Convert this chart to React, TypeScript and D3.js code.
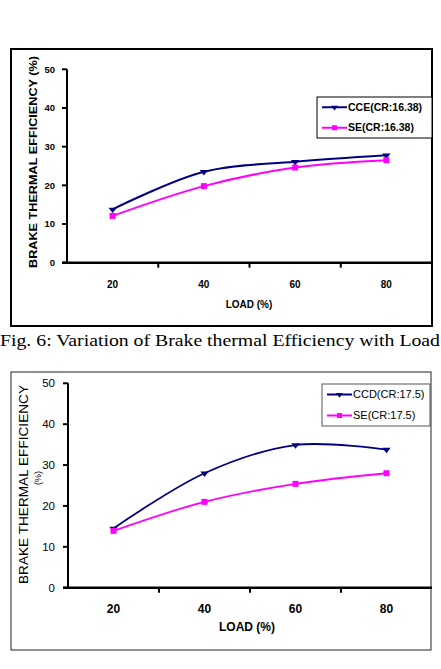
import React from "react";
import * as d3 from "d3";

// Engine load categories and y-axis ticks
const loads = ["20", "40", "60", "80"];
const yTicks = [0, 10, 20, 30, 40, 50];

// Brake thermal efficiency (%) at CR 16.38
const cce1638 = [13.8, 23.5, 26.1, 27.8];
const se1638 = [12.1, 19.8, 24.6, 26.5];

// Brake thermal efficiency (%) at CR 17.5
const ccd175 = [14.5, 28.0, 34.9, 33.8];
const se175 = [13.9, 21.0, 25.4, 28.0];

const NAVY = "#000080";
const MAGENTA = "#ff00ff";
const SANS = "'Liberation Sans', Arial, sans-serif";

type Series = { name: string; values: number[]; color: string; marker: "tri" | "sq" };

function Marker({ kind, x, y, color, size }: { kind: "tri" | "sq"; x: number; y: number; color: string; size: number }) {
  if (kind === "sq") {
    return <rect x={x - size / 2} y={y - size / 2} width={size} height={size} fill={color} />;
  }
  const s = size * 0.6;
  return <path d={`M${x - s},${y - s * 0.4} L${x + s},${y - s * 0.4} L${x},${y + s * 0.9} Z`} fill={color} />;
}

type PanelProps = {
  x0: number; x1: number; yTop: number; yBottom: number;
  series: Series[];
  bold: boolean;
  tickFont: number;
  lineWidth: number;
  labelGap: number;
  xLabelDy: number;
};

function Plot({ x0, x1, yTop, yBottom, series, bold, tickFont, lineWidth, labelGap, xLabelDy }: PanelProps) {
  const x = d3.scaleBand<string>().domain(loads).range([x0, x1]);
  const y = d3.scaleLinear().domain([0, 50]).range([yBottom, yTop]);
  const line = d3
    .line<number>()
    .x((_, i) => (x(loads[i]) as number) + x.bandwidth() / 2)
    .y((v) => y(v))
    .curve(d3.curveCatmullRom.alpha(0.5));
  const weight = bold ? "bold" : "normal";
  return (
    <g>
      {/* y axis */}
      <line x1={x0} x2={x0} y1={y(50)} y2={y(0)} stroke="#000" strokeWidth={2} />
      {yTicks.map((t) => (
        <g key={t}>
          <line x1={x0 - 5} x2={x0} y1={y(t)} y2={y(t)} stroke="#000" strokeWidth={2} />
          <text x={x0 - labelGap} y={y(t)} dy="0.35em" textAnchor="end" fontFamily={SANS} fontSize={tickFont} fontWeight={weight}>
            {t}
          </text>
        </g>
      ))}
      {/* x axis */}
      <line x1={x0 - 5} x2={x1} y1={y(0)} y2={y(0)} stroke="#000" strokeWidth={2.5} />
      {loads.slice(1).map((l) => (
        <line key={l} x1={x(l)} x2={x(l)} y1={y(0)} y2={y(0) + 5} stroke="#000" strokeWidth={2} />
      ))}
      {loads.map((l) => (
        <text
          key={l}
          x={(x(l) as number) + x.bandwidth() / 2}
          y={y(0) + xLabelDy}
          textAnchor="middle"
          fontFamily={SANS}
          fontSize={tickFont + 0.5}
          fontWeight="bold"
        >
          {l}
        </text>
      ))}
      {series.map((s) => (
        <g key={s.name}>
          <path d={line(s.values) as string} fill="none" stroke={s.color} strokeWidth={lineWidth} />
          {s.values.map((v, i) => (
            <Marker
              key={i}
              kind={s.marker}
              x={(x(loads[i]) as number) + x.bandwidth() / 2}
              y={y(v)}
              color={s.color}
              size={s.marker === "sq" ? 6 : 7}
            />
          ))}
        </g>
      ))}
    </g>
  );
}

function Legend({ x0, x1, y0, y1, series, bold, font, stroke }: { x0: number; x1: number; y0: number; y1: number; series: Series[]; bold: boolean; font: number; stroke: string }) {
  const rowH = (y1 - y0) / series.length;
  return (
    <g>
      <rect x={x0} y={y0} width={x1 - x0} height={y1 - y0} fill="#fff" stroke={stroke} strokeWidth={1} />
      {series.map((s, i) => {
        const cy = y0 + rowH * (i + 0.5);
        return (
          <g key={s.name}>
            <line x1={x0 + 5} x2={x0 + 30} y1={cy} y2={cy} stroke={s.color} strokeWidth={2} />
            <Marker kind={s.marker} x={x0 + 17.5} y={cy} color={s.color} size={s.marker === "sq" ? 5 : 6} />
            <text x={x0 + 31} y={cy} dy="0.35em" fontFamily={SANS} fontSize={font} fontWeight={bold ? "bold" : "normal"}>
              {s.name}
            </text>
          </g>
        );
      })}
    </g>
  );
}

export default function App() {
  const topSeries: Series[] = [
    { name: "CCE(CR:16.38)", values: cce1638, color: NAVY, marker: "tri" },
    { name: "SE(CR:16.38)", values: se1638, color: MAGENTA, marker: "sq" },
  ];
  const bottomSeries: Series[] = [
    { name: "CCD(CR:17.5)", values: ccd175, color: NAVY, marker: "tri" },
    { name: "SE(CR:17.5)", values: se175, color: MAGENTA, marker: "sq" },
  ];
  return (
    <svg
      width={441}
      height={669}
      viewBox="0 0 441 669"
      style={{ position: "absolute", left: 0, top: 0, background: "#fff" }}
    >
      <rect x={0} y={0} width={441} height={669} fill="#fff" />

      {/* Chart at CR 16.38 */}
      <rect x={11} y={49} width={421} height={277} fill="#fff" stroke="#000" strokeWidth={2} />
      <Plot x0={67} x1={432} yTop={69.3} yBottom={262.7} series={topSeries} bold={true} tickFont={9.5} lineWidth={2} labelGap={12} xLabelDy={25} />
      <Legend x0={317} x1={432} y0={97} y1={138} series={topSeries} bold={true} font={10.5} stroke="#000" />
      <text
        transform="translate(37,162) rotate(-90)"
        textAnchor="middle"
        fontFamily={SANS}
        fontSize={10.5}
        fontWeight="bold"
        textLength={212}
        lengthAdjust="spacingAndGlyphs"
      >
        BRAKE THERMAL EFFICIENCY (%)
      </text>
      <text x={249} y={308} textAnchor="middle" fontFamily={SANS} fontSize={10} fontWeight="bold">
        LOAD (%)
      </text>

      <text
        x={0}
        y={346}
        fontFamily="'Liberation Serif', 'Times New Roman', serif"
        fontSize={17}
        textLength={440}
        lengthAdjust="spacingAndGlyphs"
      >
        Fig. 6: Variation of Brake thermal Efficiency with Load
      </text>

      {/* Chart at CR 17.5 */}
      <rect x={11} y={372} width={420} height={278} fill="#fff" stroke="#222" strokeWidth={1} />
      <Plot x0={68} x1={432} yTop={383.3} yBottom={587.7} series={bottomSeries} bold={false} tickFont={11.5} lineWidth={1.8} labelGap={13} xLabelDy={25} />
      <Legend x0={322} x1={430} y0={384} y1={426} series={bottomSeries} bold={false} font={11} stroke="#555" />
      <text
        transform="translate(28,484.5) rotate(-90)"
        textAnchor="middle"
        fontFamily={SANS}
        fontSize={12.5}
        textLength={199}
        lengthAdjust="spacingAndGlyphs"
      >
        BRAKE THERMAL EFFICIENCY
      </text>
      <text transform="translate(41,478) rotate(-90)" textAnchor="middle" fontFamily={SANS} fontSize={9}>
        (%)
      </text>
      <text x={247} y={631} textAnchor="middle" fontFamily={SANS} fontSize={12} fontWeight="bold">
        LOAD (%)
      </text>
    </svg>
  );
}
